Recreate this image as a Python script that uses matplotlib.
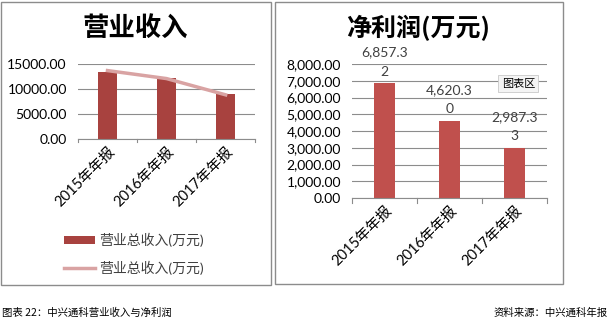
import matplotlib
matplotlib.use('Agg')
import matplotlib.pyplot as plt
from matplotlib.patches import Rectangle

plt.rcParams['font.family'] = ['Lato', 'Noto Sans CJK SC', 'DejaVu Sans']

categories = ['2015年年报', '2016年年报', '2017年年报']
revenue_bar = [13400, 12200, 9050]
revenue_line = [13700, 12100, 8850]
profit = [6857.32, 4620.30, 2987.33]
profit_labels = ['6,857.3\n2', '4,620.3\n0', '2,987.3\n3']

BAR_DARK = '#A8423F'
BAR_RED = '#C0504D'
LINE_PINK = '#D9A3A3'
GRID = '#8C8C8C'

fig = plt.figure(figsize=(6.09, 3.22), dpi=100)

# panel frames
for x0, x1, y0, y1 in [(0.002, 0.445, 0.115, 0.994), (0.452, 0.924, 0.118, 0.994)]:
    fig.add_artist(Rectangle((x0, y0), x1 - x0, y1 - y0, transform=fig.transFigure,
                             fill=False, edgecolor='#8C8C8C', linewidth=1.0))


def style_axes(ax):
    for side in ['top', 'right', 'left']:
        ax.spines[side].set_visible(False)
    ax.spines['bottom'].set_color(GRID)
    ax.yaxis.grid(True, color=GRID, linewidth=0.8)
    ax.set_axisbelow(True)
    ax.tick_params(axis='y', length=0, labelsize=10, pad=8)
    ax.tick_params(axis='x', length=0, pad=4)
    ax.set_xlim(-0.5, len(categories) - 0.5)
    ax.set_xticks(range(len(categories)))
    ax.set_xticklabels(categories, rotation=45, ha='right', rotation_mode='anchor', fontsize=10.5)
    # category boundary ticks
    for b in [i - 0.5 for i in range(len(categories) + 1)]:
        ax.plot([b, b], [0, -0.04], transform=ax.get_xaxis_transform(), color=GRID,
                linewidth=0.8, clip_on=False)


# revenue
ax1 = fig.add_axes([0.128, 0.568, 0.291, 0.233])
x = range(len(categories))
bars = ax1.bar(x, revenue_bar, width=0.31, color=BAR_DARK)
line, = ax1.plot(x, revenue_line, color=LINE_PINK, linewidth=2.5)
ax1.set_ylim(0, 15000)
ax1.set_yticks([0, 5000, 10000, 15000])
ax1.set_yticklabels([f'{v:.2f}' for v in [0, 5000, 10000, 15000]])
style_axes(ax1)
fig.text(0.222, 0.913, '营业收入', ha='center', va='center', fontsize=19, fontweight='bold',
         family='Noto Sans CJK SC')

leg = fig.legend([bars, line], ['营业总收入(万元)', '营业总收入(万元)'], loc='upper left',
                 bbox_to_anchor=(0.085, 0.315), frameon=False, fontsize=10, handlelength=2.2,
                 handleheight=0.5, labelspacing=0.95, handletextpad=0.3)
for t in leg.get_texts():
    t.set_color('#404040')

# net profit
ax2 = fig.add_axes([0.578, 0.385, 0.320, 0.416])
ax2.bar(x, profit, width=0.32, color=BAR_RED)
ax2.set_ylim(0, 8000)
ax2.set_yticks(range(0, 8001, 1000))
ax2.set_yticklabels([f'{v:,.2f}' for v in range(0, 8001, 1000)])
style_axes(ax2)
for i, (v, lab) in enumerate(zip(profit, profit_labels)):
    ax2.annotate(lab, (i, v), xytext=(0, 4), textcoords='offset points', ha='center',
                 va='bottom', fontsize=10, color='#404040', linespacing=1.7)
fig.text(0.687, 0.913, '净利润(万元)', ha='center', va='center', fontsize=18, fontweight='bold',
         family='Noto Sans CJK SC')
fig.text(0.851, 0.74, '图表区', ha='center', va='center', fontsize=8, family='Noto Sans CJK SC',
         bbox=dict(boxstyle='square,pad=0.3', facecolor='#F4F4F4', edgecolor='#C8C8C8', linewidth=0.6))

# captions
fig.text(0.003, 0.028, '图表 22：中兴通科营业收入与净利润', ha='left', va='center', fontsize=7.5,
         family='Noto Sans CJK SC')
fig.text(0.997, 0.028, '资料来源：中兴通科年报', ha='right', va='center', fontsize=7.5,
         family='Noto Sans CJK SC')

fig.savefig('out.png', dpi=100)
